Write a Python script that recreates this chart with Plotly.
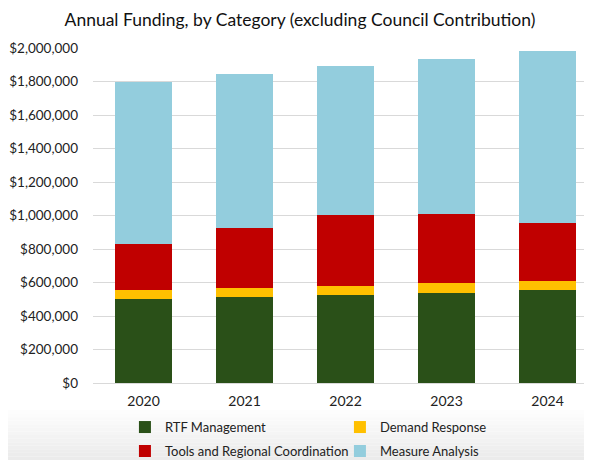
import plotly.graph_objects as go

years = ["2020", "2021", "2022", "2023", "2024"]
rtf_management = [500000, 515000, 527000, 540000, 555000]
demand_response = [53000, 52000, 54000, 57000, 56000]
tools_regional = [277000, 360000, 422000, 412000, 344000]
measure_analysis = [970000, 918000, 888000, 927000, 1029000]

tick_vals = [0, 200000, 400000, 600000, 800000, 1000000, 1200000, 1400000,
             1600000, 1800000, 2000000]
tick_text = ["$0", "$200,000", "$400,000", "$600,000", "$800,000", "$1,000,000",
             "$1,200,000", "$1,400,000", "$1,600,000", "$1,800,000", "$2,000,000"]

# name, values, colour, which legend row
series = [
    ("RTF Management", rtf_management, "#2a5018", "legend"),
    ("Demand Response", demand_response, "#ffc000", "legend"),
    ("Tools and Regional Coordination", tools_regional, "#c00000", "legend2"),
    ("Measure Analysis", measure_analysis, "#93cddd", "legend2"),
]

fig = go.Figure()
for name, vals, color, leg in series:
    fig.add_trace(go.Bar(
        x=list(range(len(years))),
        y=vals,
        name=name,
        marker=dict(color=color, line=dict(width=0)),
        width=0.57,
        legend=leg,
    ))

# the page body adds an 8px margin, so the figure is 584x452 and sits at (8, 8)
# light gray gradient behind the legend area (plot area is 335px tall)
n = 14
top, bottom = -27 / 335, -77 / 335
for i in range(n):
    y1 = top + (bottom - top) * i / n
    y0 = top + (bottom - top) * (i + 1) / n
    g = int(255 - (255 - 235) * (i + 1) / n)
    fig.add_shape(type="rect", xref="paper", yref="paper",
                  x0=-85 / 499, x1=1.0, y0=y0, y1=y1,
                  fillcolor=f"rgb({g},{g},{g})", line=dict(width=0),
                  layer="below")

legend_style = dict(orientation="h", x=0.064, xanchor="left",
                    yref="container", yanchor="top",
                    entrywidth=170, entrywidthmode="pixels", traceorder="normal",
                    font=dict(size=13), bgcolor="rgba(0,0,0,0)", itemwidth=30)

fig.update_layout(
    barmode="stack",
    width=584,
    height=452,
    paper_bgcolor="white",
    plot_bgcolor="rgba(0,0,0,0)",
    font=dict(family="Lato, Carlito, sans-serif", size=13, color="#222222"),
    title=dict(text="Annual Funding, by Category (excluding Council Contribution)",
               x=0.5, xanchor="center", y=0.973, yanchor="middle",
               font=dict(size=17.5, color="#111111")),
    margin=dict(l=85, r=0, t=40, b=77),
    bargap=0.43,
    legend=dict(y=0.106, **legend_style),
    legend2=dict(y=0.053, **legend_style),
    xaxis=dict(tickmode="array", tickvals=list(range(len(years))), ticktext=years,
               range=[-0.5, 4.44], showgrid=False, showline=True,
               linecolor="#d9d9d9", linewidth=1, ticks="", tickfont=dict(size=14),
               ticklabelstandoff=5, fixedrange=True),
    yaxis=dict(range=[0, 2000000], tickmode="array", tickvals=tick_vals,
               ticktext=tick_text, showgrid=True, gridcolor="#d9d9d9",
               gridwidth=1, zeroline=False, ticks="", tickfont=dict(size=13.5),
               ticklabelstandoff=14),
)

fig.write_html("out.html")
